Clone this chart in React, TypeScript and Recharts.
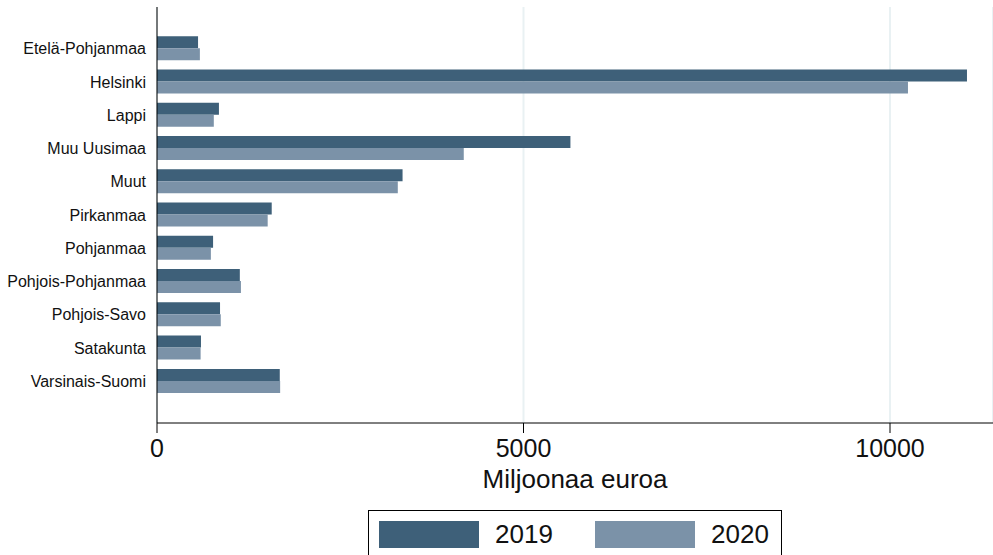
import React from "react";
import { BarChart, Bar, XAxis, YAxis, CartesianGrid } from "recharts";

const regions = [
  "Etelä-Pohjanmaa",
  "Helsinki",
  "Lappi",
  "Muu Uusimaa",
  "Muut",
  "Pirkanmaa",
  "Pohjanmaa",
  "Pohjois-Pohjanmaa",
  "Pohjois-Savo",
  "Satakunta",
  "Varsinais-Suomi",
];
const values2019 = [560, 11050, 845, 5640, 3350, 1565, 765, 1130, 860, 600, 1675];
const values2020 = [585, 10245, 775, 4185, 3285, 1510, 735, 1145, 870, 595, 1680];
const seriesNames = ["2019", "2020"];
const seriesColors = ["#3e6079", "#7b92a8"];
const xTicks = [0, 5000, 10000];
const xLabel = "Miljoonaa euroa";

const data = regions.map((name, i) => ({
  name,
  v2019: values2019[i],
  v2020: values2020[i],
}));

const FONT = "'Liberation Sans', Arial, sans-serif";

export default function App() {
  return (
    <div style={{ position: "absolute", left: 0, top: 0, width: 993, height: 555, background: "#fff", fontFamily: FONT }}>
      <BarChart
        width={993}
        height={555}
        data={data}
        layout="vertical"
        margin={{ top: 7, right: 0, left: 0, bottom: 62 }}
        barCategoryGap="12.5%"
        barGap={0}
      >
        <CartesianGrid horizontal={false} vertical={true} stroke="#e9f1f3" strokeWidth={2} />
        <XAxis
          type="number"
          domain={[0, 11405]}
          ticks={xTicks}
          allowDataOverflow
          height={70}
          tickSize={10}
          tickMargin={6}
          stroke="#000"
          tick={{ fill: "#111", fontSize: 25, fontFamily: FONT }}
          label={{ value: xLabel, position: "insideBottom", offset: 5, fill: "#111", fontSize: 26, fontFamily: FONT }}
        />
        <YAxis
          type="category"
          dataKey="name"
          width={157}
          padding={{ top: 25, bottom: 25 }}
          tickLine={false}
          tickSize={0}
          tickMargin={11}
          stroke="#000"
          interval={0}
          tick={{ fill: "#111", fontSize: 16, fontFamily: FONT }}
        />
        <Bar dataKey="v2019" name={seriesNames[0]} fill={seriesColors[0]} isAnimationActive={false} />
        <Bar dataKey="v2020" name={seriesNames[1]} fill={seriesColors[1]} isAnimationActive={false} />
      </BarChart>
      <div
        style={{
          position: "absolute",
          left: 368,
          top: 510,
          width: 414,
          height: 50,
          border: "1px solid #000",
          boxSizing: "border-box",
        }}
      >
        {seriesNames.map((s, i) => (
          <div key={s} style={{ position: "absolute", left: 10 + i * 216, top: 10, display: "flex", alignItems: "center" }}>
            <div style={{ width: 100, height: 27, background: seriesColors[i] }} />
            <span style={{ marginLeft: 16, fontSize: 26, color: "#111", lineHeight: "27px" }}>{s}</span>
          </div>
        ))}
      </div>
    </div>
  );
}
